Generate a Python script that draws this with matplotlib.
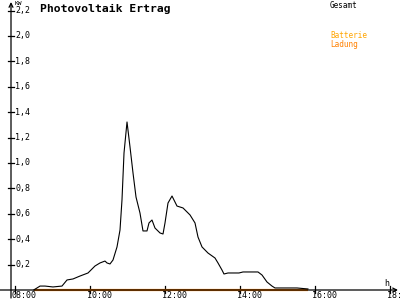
import matplotlib
matplotlib.use("Agg")
import matplotlib.pyplot as plt

# Gesamt (kW) ueber Uhrzeit (h)
zeit = [8.5, 8.667, 8.8, 9.013, 9.253, 9.387, 9.547, 9.733, 9.947, 10.133,
        10.267, 10.4, 10.453, 10.533, 10.613, 10.72, 10.8, 10.853, 10.907,
        10.987, 11.067, 11.147, 11.227, 11.333, 11.413, 11.52, 11.573, 11.653,
        11.733, 11.867, 11.947, 12.0, 12.08, 12.187, 12.32, 12.48, 12.667,
        12.8, 12.88, 12.987, 13.147, 13.333, 13.413, 13.52, 13.573, 13.68,
        13.813, 13.973, 14.08, 14.48, 14.587, 14.72, 14.853, 14.933, 15.52,
        15.813]
gesamt = [0.0, 0.031, 0.031, 0.024, 0.031, 0.079, 0.087, 0.110, 0.134, 0.189,
          0.213, 0.228, 0.213, 0.205, 0.236, 0.339, 0.472, 0.709, 1.079,
          1.323, 1.126, 0.921, 0.732, 0.606, 0.465, 0.465, 0.528, 0.551,
          0.488, 0.449, 0.441, 0.528, 0.685, 0.740, 0.661, 0.646, 0.591,
          0.528, 0.417, 0.339, 0.291, 0.252, 0.213, 0.157, 0.126, 0.134,
          0.134, 0.134, 0.142, 0.142, 0.118, 0.063, 0.031, 0.016, 0.016,
          0.008]

# Batterie Ladung
ladung_zeit = [8.5, 15.813]
ladung = [0.0, 0.0]

y_ticks = [0.2, 0.4, 0.6, 0.8, 1.0, 1.2, 1.4, 1.6, 1.8, 2.0, 2.2]
x_ticks = [8, 10, 12, 14, 16, 18]

ORANGE = "#ff8000"
mono = "DejaVu Sans Mono"
px_h = 37.5   # pixel pro stunde
px_kw = 127   # pixel pro kW

fig = plt.figure(figsize=(4, 3), dpi=100)
ax = fig.add_axes([0, 0, 1, 1])
ax.set_xlim(7.6, 7.6 + 400 / px_h)
ax.set_ylim(-10 / px_kw, 290 / px_kw)
ax.axis("off")

yaxis_x = 7.6 + 11 / px_h

# achsen mit pfeilen
ax.annotate("", xy=(7.6 + 398 / px_h, 0), xytext=(7.6, 0),
            arrowprops=dict(arrowstyle="->", lw=0.9, color="black",
                            shrinkA=0, shrinkB=0, mutation_scale=7))
ax.annotate("", xy=(yaxis_x, 288 / px_kw), xytext=(yaxis_x, -8 / px_kw),
            arrowprops=dict(arrowstyle="->", lw=0.9, color="black",
                            shrinkA=0, shrinkB=0, mutation_scale=7))

for v in y_ticks:
    ax.plot([yaxis_x - 3 / px_h, yaxis_x + 3 / px_h], [v, v], color="black", lw=0.9)
    ax.text(yaxis_x + 4 / px_h, v, ("%.1f" % v).replace(".", ","),
            fontsize=6, family=mono, va="center", ha="left")

for t in x_ticks:
    ax.plot([t, t], [-3 / px_kw, 4 / px_kw], color="black", lw=0.9)
    ax.text(t - 3.5 / px_h, -6 / px_kw, "%02d:00" % t, fontsize=6, family=mono,
            va="center", ha="left")

ax.text(yaxis_x + 4 / px_h, 289 / px_kw, "KW", fontsize=4.5, family=mono,
        va="top", ha="left")
ax.text(7.6 + 384 / px_h, 7 / px_kw, "h", fontsize=6, family=mono,
        va="center", ha="left")

ax.plot(ladung_zeit, ladung, color=ORANGE, lw=1.6, solid_capstyle="butt")
ax.plot(zeit, gesamt, color="black", lw=0.8)

fig.text(40 / 400, 1 - 9 / 300, "Photovoltaik Ertrag", fontsize=8.2,
         family=mono, weight="bold", va="center", ha="left")
fig.text(330 / 400, 1 - 5 / 300, "Gesamt", fontsize=5.5, family=mono,
         va="center", ha="left", color="black")
fig.text(330 / 400, 1 - 36 / 300, "Batterie", fontsize=5.5, family=mono,
         va="center", ha="left", color="#ffa500")
fig.text(330 / 400, 1 - 44 / 300, "Ladung", fontsize=5.5, family=mono,
         va="center", ha="left", color=ORANGE)

fig.savefig("out.png", dpi=100)
